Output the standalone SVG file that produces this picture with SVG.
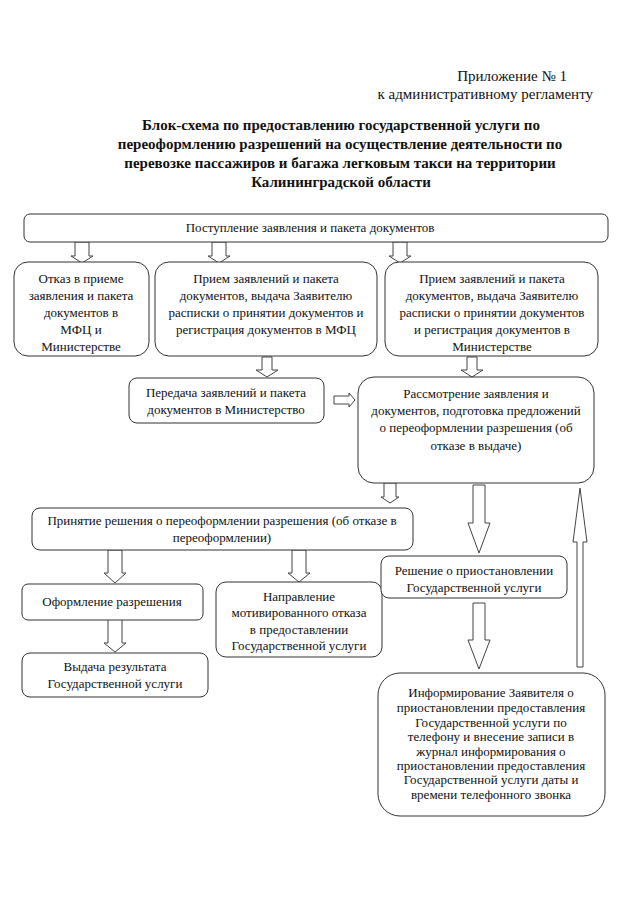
<svg xmlns="http://www.w3.org/2000/svg" width="640" height="905" viewBox="0 0 640 905">
<style>
text{font-family:"Liberation Serif","Times New Roman",serif;fill:#111;}
.h{font-size:15px;}
.t{font-size:15px;font-weight:bold;text-anchor:middle;}
.b{font-size:13px;text-anchor:middle;}
.box{fill:#fff;stroke:#333;stroke-width:1;}
.ar{fill:#fff;stroke:#444;stroke-width:1;stroke-linejoin:miter;}
</style>
<rect width="640" height="905" fill="#fff"/>
<g id="header">
<text class="h" x="567" y="81" text-anchor="end">Приложение № 1</text>
<text class="h" x="593" y="99" text-anchor="end">к административному регламенту</text>
<text class="t" x="341" y="130">Блок-схема по предоставлению государственной услуги по</text>
<text class="t" x="340" y="149">переоформлению разрешений на осуществление деятельности по</text>
<text class="t" x="340" y="168">перевозке пассажиров и багажа легковым такси на территории</text>
<text class="t" x="341" y="187">Калининградской области</text>
</g>
<g id="connectors">
<polygon class="ar" points="75,242 89,242 89,256 93,256 82,263 71,256 75,256"/>
<polygon class="ar" points="212,242 226,242 226,256 230,256 219,263 208,256 212,256"/>
<polygon class="ar" points="393,242 407,242 407,256 411,256 400,263 389,256 393,256"/>
<polygon class="ar" points="262,357 272,357 272,370 278,370 267,377 256,370 262,370"/>
<polygon class="ar" points="467,357 477,357 477,370 483,370 472,377 461,370 467,370"/>
<polygon class="ar" points="334,396 349,396 349,393 355,400 349,407 349,404 334,404"/>
<polygon class="ar" points="384,483 396,483 396,497 399,497 390,503 381,497 384,497"/>
<polygon class="ar" points="473,485 485,485 485,523 490,523 479,553 468,523 473,523"/>
<polygon class="ar" points="473,603 485,603 485,640 490,640 479,669 468,640 473,640"/>
<polygon class="ar" points="577,667 583,667 583,542 587,542 580,488 573,542 577,542"/>
<polygon class="ar" points="108,550 122,550 122,573 126,573 115,583 104,573 108,573"/>
<polygon class="ar" points="292,550 306,550 306,573 310,573 299,582 288,573 292,573"/>
<polygon class="ar" points="108,619 122,619 122,643 126,643 115,652 104,643 108,643"/>
</g>
<g id="n1">
<rect class="box" x="24" y="214" width="584" height="28" rx="6"/>
<text class="b" x="310" y="232">Поступление заявления и пакета документов</text>
</g>
<g id="nA">
<rect class="box" x="14" y="262" width="135" height="94" rx="14"/>
<text class="b" x="81" y="283">Отказ в приеме</text>
<text class="b" x="81" y="300">заявления и пакета</text>
<text class="b" x="81" y="317">документов в</text>
<text class="b" x="81" y="334">МФЦ и</text>
<text class="b" x="81" y="351">Министерстве</text>
</g>
<g id="nB">
<rect class="box" x="155" y="262" width="222" height="94" rx="14"/>
<text class="b" x="266" y="283">Прием заявлений и пакета</text>
<text class="b" x="266" y="300">документов, выдача Заявителю</text>
<text class="b" x="266" y="317">расписки о принятии документов и</text>
<text class="b" x="266" y="334">регистрация документов в МФЦ</text>
</g>
<g id="nC">
<rect class="box" x="385" y="262" width="213" height="94" rx="14"/>
<text class="b" x="492" y="283">Прием заявлений и пакета</text>
<text class="b" x="492" y="300">документов, выдача Заявителю</text>
<text class="b" x="492" y="317">расписки о принятии документов</text>
<text class="b" x="492" y="334">и регистрация документов в</text>
<text class="b" x="492" y="351">Министерстве</text>
</g>
<g id="nD">
<rect class="box" x="129" y="378" width="195" height="45" rx="8"/>
<text class="b" x="226" y="397">Передача заявлений и пакета</text>
<text class="b" x="226" y="414">документов в Министерство</text>
</g>
<g id="nE">
<rect class="box" x="358" y="377" width="236" height="106" rx="16"/>
<text class="b" x="476" y="398">Рассмотрение заявления и</text>
<text class="b" x="476" y="415">документов, подготовка предложений</text>
<text class="b" x="476" y="432">о переоформлении разрешения (об</text>
<text class="b" x="476" y="450">отказе в выдаче)</text>
</g>
<g id="nG">
<rect class="box" x="32" y="508" width="381" height="42" rx="8"/>
<text class="b" x="222" y="525">Принятие решения о переоформлении разрешения (об отказе в</text>
<text class="b" x="222" y="542">переоформлении)</text>
</g>
<g id="nH">
<rect class="box" x="22" y="584" width="181" height="36" rx="6"/>
<text class="b" x="112" y="606">Оформление разрешения</text>
</g>
<g id="nI">
<rect class="box" x="216" y="582" width="166" height="75" rx="10"/>
<text class="b" x="299" y="601">Направление</text>
<text class="b" x="299" y="617">мотивированного отказа</text>
<text class="b" x="299" y="634">в предоставлении</text>
<text class="b" x="299" y="650">Государственной услуги</text>
</g>
<g id="nJ">
<rect class="box" x="22" y="653" width="186" height="44" rx="8"/>
<text class="b" x="115" y="671">Выдача результата</text>
<text class="b" x="115" y="688">Государственной услуги</text>
</g>
<g id="nK">
<rect class="box" x="381" y="556" width="186" height="42" rx="8"/>
<text class="b" x="474" y="575">Решение о приостановлении</text>
<text class="b" x="474" y="592">Государственной услуги</text>
</g>
<g id="nF">
<rect class="box" x="378" y="673" width="227" height="143" rx="22"/>
<text class="b" x="491" y="697">Информирование Заявителя о</text>
<text class="b" x="491" y="712">приостановлении предоставления</text>
<text class="b" x="491" y="727">Государственной услуги по</text>
<text class="b" x="491" y="741">телефону и внесение записи в</text>
<text class="b" x="491" y="756">журнал информирования о</text>
<text class="b" x="491" y="770">приостановлении предоставления</text>
<text class="b" x="491" y="784">Государственной услуги даты и</text>
<text class="b" x="491" y="799">времени телефонного звонка</text>
</g>
</svg>
